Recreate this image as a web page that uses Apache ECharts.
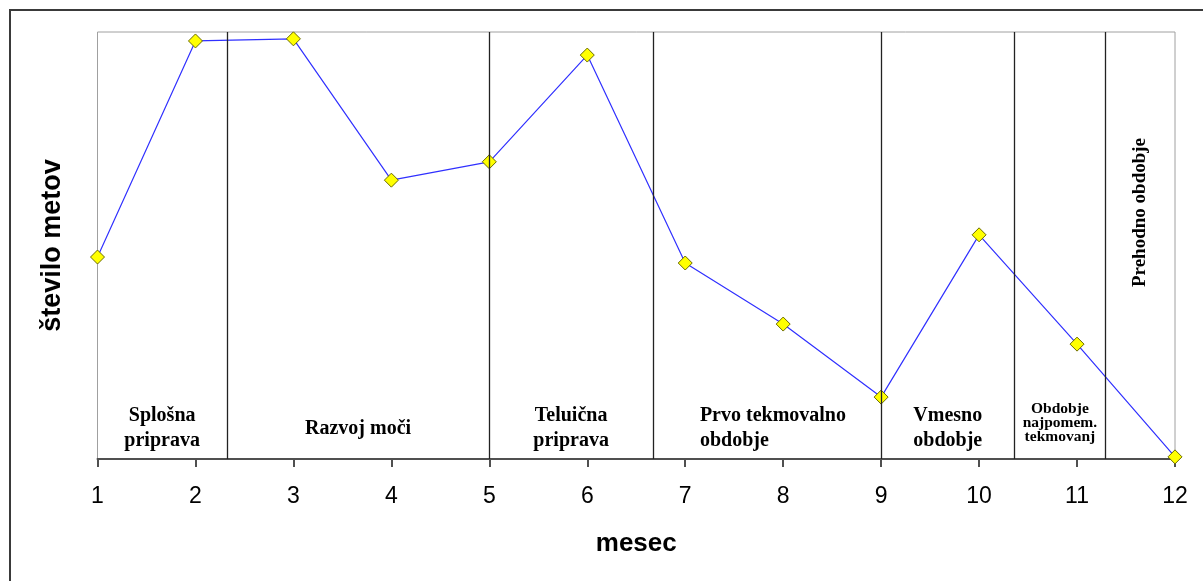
<!DOCTYPE html>
<html>
<head>
<meta charset="utf-8">
<script src="https://cdn.jsdelivr.net/npm/echarts@6/dist/echarts.min.js"></script>
<style>
  html, body { margin: 0; padding: 0; background: #fff; }
  #chart { width: 1203px; height: 581px; }
</style>
</head>
<body>
<div id="chart"></div>
<script>
// Months on the x axis and the relative number of throws per month
var months = [1, 2, 3, 4, 5, 6, 7, 8, 9, 10, 11, 12];
var throwCounts = [47.3, 97.9, 98.4, 65.3, 69.6, 94.6, 45.9, 31.6, 14.5, 52.5, 26.9, 0.5];

// Training phases: boundaries (in months) and their names
var phaseBounds = [1, 2.32, 5, 6.67, 9, 10.36, 11.29, 12];
var phaseNames = [
  'Splošna\npriprava',
  'Razvoj moči',
  'Teluična\npriprava',
  'Prvo tekmovalno\nobdobje',
  'Vmesno\nobdobje',
  'Obdobje\nnajpomem.\ntekmovanj',
  'Prehodno obdobje'
];

var serif = '"Liberation Serif", "DejaVu Serif", serif';
var sans = '"Liberation Sans", Arial, sans-serif';

// Per-phase label styling
function phaseLabel(i) {
  var base = {
    show: true,
    color: '#000',
    fontFamily: serif,
    fontWeight: 'bold',
    fontSize: 20,
    lineHeight: 25,
    position: 'insideBottom',
    distance: 6
  };
  if (i === 1) base.distance = 18;
  if (i === 3) {
    base.position = 'insideBottomLeft';
    base.align = 'left';
    base.offset = [41, 0];
  }
  if (i === 5) {
    base.fontSize = 15.5;
    base.lineHeight = 14;
    base.distance = 15;
  }
  if (i === 6) {
    base.position = 'inside';
    base.rotate = 90;
    base.fontSize = 19;
    base.offset = [33, 0];
  }
  return base;
}

var areaData = [];
for (var i = 0; i < phaseNames.length; i++) {
  areaData.push([
    { name: phaseNames[i], xAxis: phaseBounds[i], label: phaseLabel(i) },
    { xAxis: phaseBounds[i + 1] }
  ]);
}

var boundaryLines = phaseBounds.slice(1, -1).map(function (b) { return { xAxis: b }; });

var chart = echarts.init(document.getElementById('chart'), null, { renderer: 'canvas' });
chart.setOption({
  backgroundColor: '#ffffff',
  animation: false,
  graphic: [{
    type: 'rect',
    shape: { x: 10, y: 10, width: 1210, height: 600 },
    style: { fill: 'none', stroke: '#3a3a3a', lineWidth: 2 },
    silent: true,
    z: -1
  }],
  grid: {
    left: 97.5,
    right: 28,
    top: 32,
    bottom: 122,
    show: true,
    borderColor: '#a0a0a0',
    borderWidth: 1,
    backgroundColor: 'transparent'
  },
  xAxis: {
    type: 'value',
    min: 1,
    max: 12,
    interval: 1,
    name: 'mesec',
    nameLocation: 'middle',
    nameGap: 72,
    nameTextStyle: { fontFamily: sans, fontWeight: 'bold', fontSize: 26, color: '#000' },
    axisLine: { show: true, onZero: false, lineStyle: { color: '#505050', width: 2 } },
    axisTick: { show: true, length: 8, lineStyle: { color: '#505050', width: 2 } },
    axisLabel: { fontFamily: sans, fontSize: 23, color: '#000', margin: 26 },
    splitLine: { show: false }
  },
  yAxis: {
    type: 'value',
    min: 0,
    max: 100,
    name: 'število metov',
    nameLocation: 'middle',
    nameGap: 31,
    nameRotate: 90,
    nameTextStyle: { fontFamily: sans, fontWeight: 'bold', fontSize: 27, color: '#000' },
    axisLine: { show: false },
    axisTick: { show: false },
    axisLabel: { show: false },
    splitLine: { show: false }
  },
  series: [{
    type: 'line',
    data: months.map(function (m, i) { return [m, throwCounts[i]]; }),
    symbol: 'diamond',
    symbolSize: 14,
    showAllSymbol: true,
    lineStyle: { color: '#3030ff', width: 1.2 },
    itemStyle: { color: '#ffff00', borderColor: '#6b6b00', borderWidth: 1 },
    z: 3,
    markLine: {
      silent: true,
      symbol: ['none', 'none'],
      label: { show: false },
      lineStyle: { color: '#222', width: 1.3, type: 'solid' },
      data: boundaryLines
    },
    markArea: {
      silent: true,
      itemStyle: { color: 'rgba(0,0,0,0)' },
      data: areaData
    }
  }]
});
</script>
</body>
</html>
